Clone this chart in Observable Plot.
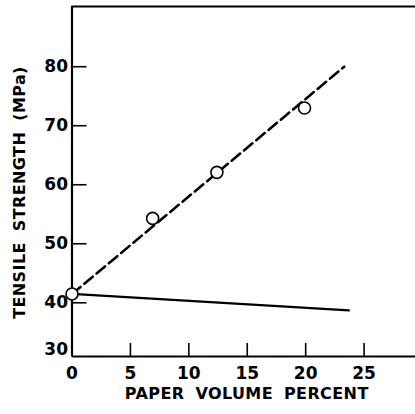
<!DOCTYPE html>
<html>
<head>
<meta charset="utf-8">
<script src="https://cdn.jsdelivr.net/npm/d3@7"></script>
<script src="https://cdn.jsdelivr.net/npm/@observablehq/plot@0.6"></script>
<style>
  html, body { margin: 0; padding: 0; background: #fff; }
  svg text { font-family: "DejaVu Sans", sans-serif; font-weight: bold; }
</style>
</head>
<body>
<div id="chart"></div>
<script>
// ---- data ----
const xTicks = [0, 5, 10, 15, 20, 25];
const yTicks = [40, 50, 60, 70, 80];
const yBottomLabel = ["30"];
const xTitle = "PAPER VOLUME PERCENT";
const yTitle = "TENSILE STRENGTH (MPa)";

const paperVolume = [0, 6.9, 12.4, 19.9];
const tensileStrength = [41.5, 54.3, 62.1, 73.0];

const dashedX = [0, 23.3];
const dashedY = [41.5, 80.0];
const solidX = [0, 23.7];
const solidY = [41.5, 38.7];

const xDomain = [0, 29.4];
const yDomain = [30.9, 90.2];

// ---- build tables ----
const points = paperVolume.map((x, i) => ({x, y: tensileStrength[i]}));
const dashed = dashedX.map((x, i) => ({x, y: dashedY[i]}));
const solid = solidX.map((x, i) => ({x, y: solidY[i]}));

const xTickLen = 13 / 5.9;   // in y units
const yTickLen = 15 / 11.67; // in x units

const chart = Plot.plot({
  width: 415,
  height: 414,
  marginLeft: 71.5,
  marginRight: 0,
  marginTop: 6,
  marginBottom: 58,
  style: {fontFamily: "DejaVu Sans", fontWeight: "bold", fontSize: "15px", color: "#000", background: "#fff"},
  x: {domain: xDomain},
  y: {domain: yDomain},
  marks: [
    // frame lines
    Plot.ruleX([xDomain[0]], {stroke: "#000", strokeWidth: 2.2}),
    Plot.ruleY([yDomain[0]], {stroke: "#000", strokeWidth: 2.2}),
    Plot.ruleY([yDomain[1]], {stroke: "#000", strokeWidth: 2.2}),
    // inward ticks
    Plot.ruleY(yTicks, {x1: 0, x2: yTickLen, stroke: "#000", strokeWidth: 1.6}),
    Plot.ruleX(xTicks.slice(1), {y1: yDomain[0], y2: yDomain[0] + xTickLen, stroke: "#000", strokeWidth: 1.6}),
    // axes labels
    Plot.axisY({ticks: yTicks, tickSize: 0, tickPadding: 4, label: null, fontSize: 17}),
    Plot.text(yBottomLabel, {x: 0, y: 32.1, text: d => d, textAnchor: "end", dx: -4, fontSize: 17}),
    Plot.axisX({ticks: xTicks, tickSize: 0, tickPadding: 10, label: null, fontSize: 17}),
    Plot.text([xTitle], {frameAnchor: "bottom", textAnchor: "middle", lineAnchor: "middle", dy: 37, dx: 3, fontSize: 16}),
    Plot.text([yTitle], {frameAnchor: "left", textAnchor: "middle", lineAnchor: "middle", rotate: -90, dx: -52, dy: 11, fontSize: 16}),
    // lines
    Plot.line(solid, {x: "x", y: "y", stroke: "#000", strokeWidth: 2.2}),
    Plot.line(dashed, {x: "x", y: "y", stroke: "#000", strokeWidth: 2.6, strokeDasharray: "11,5"}),
    // points
    Plot.dot(points, {x: "x", y: "y", r: 6, fill: "#fff", stroke: "#000", strokeWidth: 1.6})
  ]
});
d3.select(chart).selectAll("text")
  .filter(function() { return this.textContent === xTitle || this.textContent === yTitle; })
  .attr("letter-spacing", "0.4px")
  .attr("word-spacing", "5px");
document.getElementById("chart").appendChild(chart);
</script>
</body>
</html>
